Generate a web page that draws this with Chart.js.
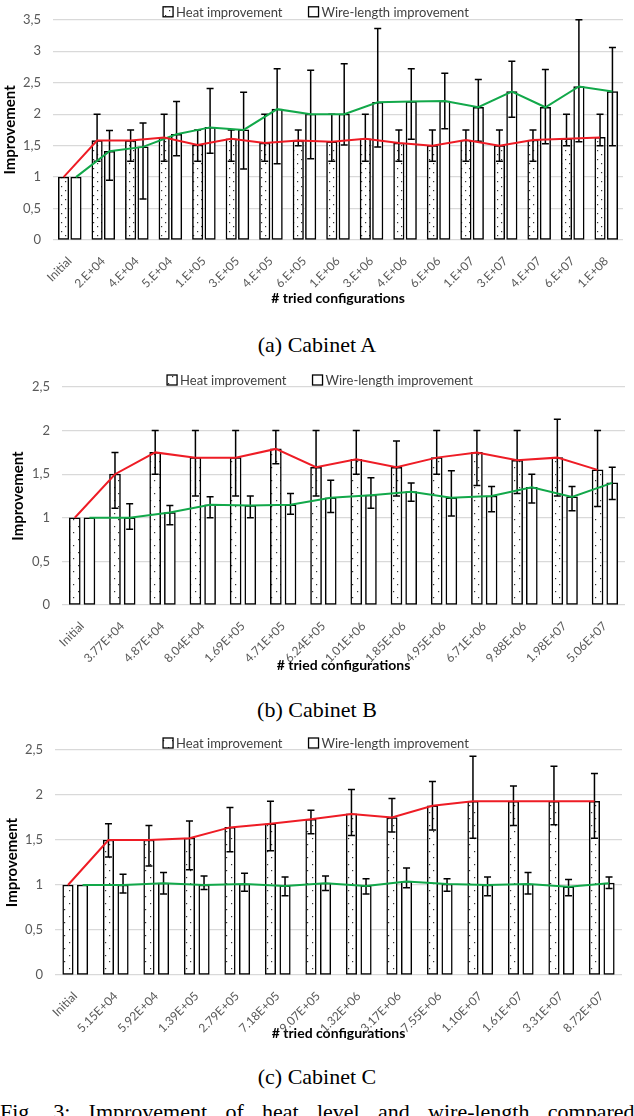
<!DOCTYPE html>
<html>
<head>
<meta charset="utf-8">
<script src="https://cdn.jsdelivr.net/npm/chart.js@4.4.1/dist/chart.umd.min.js"></script>
<style>
  html, body { margin: 0; padding: 0; background: #fff; width: 634px; height: 1116px; overflow: hidden; }
  .chart { position: absolute; left: 0; width: 634px; }
  .caption { position: absolute; left: 0; width: 634px; text-align: center; font-family: 'Liberation Serif', serif; font-size: 22px; line-height: 24px; color: #000; }
  .fig { position: absolute; left: 0; top: 1099px; white-space: nowrap; font-family: 'Liberation Serif', serif; font-size: 22px; line-height: 26px; word-spacing: 12.8px; color: #000; }
</style>
</head>
<body>
<div class="chart" style="top:0;height:311px"><canvas id="chartA"></canvas></div>
<div class="caption" style="top:333px">(a) Cabinet A</div>
<div class="chart" style="top:362px;height:316px"><canvas id="chartB"></canvas></div>
<div class="caption" style="top:698px">(b) Cabinet B</div>
<div class="chart" style="top:726px;height:320px"><canvas id="chartC"></canvas></div>
<div class="caption" style="top:1065px">(c) Cabinet C</div>
<div class="fig">Fig. 3: Improvement of heat level and wire-length compared</div>

<script>
// ========== Cabinet A ==========
const catsA = ['Initial', '2.E+04', '4.E+04', '5.E+04', '1.E+05', '3.E+05', '4.E+05', '6.E+05', '1.E+06',
    '3.E+06', '4.E+06', '6.E+06', '1.E+07', '3.E+07', '4.E+07', '6.E+07', '1.E+08'];
const heatA   = [1.00, 1.58, 1.58, 1.63, 1.51, 1.61, 1.54, 1.58, 1.56, 1.61, 1.54, 1.50, 1.59, 1.50, 1.59, 1.61, 1.63];
const heatLoA = [1.00, 1.25, 1.25, 1.25, 1.25, 1.25, 1.25, 1.50, 1.25, 1.25, 1.25, 1.25, 1.25, 1.25, 1.25, 1.50, 1.50];
const heatHiA = [1.00, 2.00, 1.75, 2.00, 1.75, 1.75, 2.00, 1.75, 2.00, 2.00, 1.75, 1.75, 1.75, 1.75, 1.75, 2.00, 2.00];
const wireA   = [1.00, 1.41, 1.48, 1.68, 1.79, 1.75, 2.08, 2.00, 2.00, 2.19, 2.20, 2.21, 2.11, 2.36, 2.11, 2.44, 2.36];
const wireLoA = [1.00, 0.95, 0.65, 1.34, 1.38, 1.13, 1.21, 1.29, 1.51, 1.48, 1.60, 1.77, 1.57, 1.95, 1.53, 1.56, 1.50];
const wireHiA = [1.00, 1.74, 1.86, 2.20, 2.41, 2.35, 2.72, 2.70, 2.80, 3.36, 2.72, 2.65, 2.55, 2.84, 2.71, 3.50, 3.06];

// ========== Cabinet B ==========
const catsB = ['Initial', '3.77E+04', '4.87E+04', '8.04E+04', '1.69E+05', '4.71E+05', '6.24E+05', '1.01E+06',
    '1.85E+06', '4.95E+06', '6.71E+06', '9.88E+06', '1.98E+07', '5.06E+07'];
const heatB   = [1.00, 1.50, 1.75, 1.69, 1.69, 1.79, 1.58, 1.67, 1.58, 1.69, 1.75, 1.66, 1.69, 1.55];
const heatLoB = [1.00, 1.11, 1.50, 1.25, 1.25, 1.62, 1.25, 1.50, 1.25, 1.50, 1.37, 1.28, 1.25, 1.13];
const heatHiB = [1.00, 1.75, 2.00, 2.00, 2.00, 2.00, 2.00, 2.00, 1.88, 2.00, 2.00, 2.00, 2.13, 2.00];
const wireB   = [1.00, 1.00, 1.06, 1.15, 1.14, 1.15, 1.23, 1.26, 1.30, 1.23, 1.25, 1.35, 1.24, 1.40];
const wireLoB = [1.00, 0.87, 0.92, 1.00, 1.00, 1.04, 1.06, 1.11, 1.19, 1.02, 1.07, 1.17, 1.08, 1.21];
const wireHiB = [1.00, 1.16, 1.14, 1.24, 1.25, 1.28, 1.43, 1.46, 1.40, 1.54, 1.36, 1.50, 1.36, 1.58];

// ========== Cabinet C ==========
const catsC = ['Initial', '5.15E+04', '5.92E+04', '1.39E+05', '2.79E+05', '7.18E+05', '9.07E+05', '1.32E+06',
    '3.17E+06', '7.55E+06', '1.10E+07', '1.61E+07', '3.31E+07', '8.72E+07'];
const heatC   = [1.00, 1.50, 1.50, 1.52, 1.64, 1.68, 1.73, 1.79, 1.75, 1.88, 1.93, 1.93, 1.93, 1.93];
const heatLoC = [1.00, 1.31, 1.21, 1.17, 1.37, 1.38, 1.57, 1.55, 1.59, 1.61, 1.52, 1.66, 1.67, 1.52];
const heatHiC = [1.00, 1.68, 1.66, 1.71, 1.86, 1.93, 1.83, 2.06, 1.96, 2.15, 2.43, 2.10, 2.32, 2.24];
const wireC   = [1.00, 1.00, 1.02, 1.00, 1.01, 0.99, 1.02, 0.99, 1.04, 1.01, 1.00, 1.01, 0.98, 1.02];
const wireLoC = [1.00, 0.91, 0.90, 0.95, 0.93, 0.88, 0.94, 0.90, 0.97, 0.93, 0.88, 0.90, 0.88, 0.96];
const wireHiC = [1.00, 1.12, 1.14, 1.10, 1.13, 1.09, 1.10, 1.07, 1.19, 1.07, 1.09, 1.14, 1.06, 1.09];

const RED = '#ee1c25';
const GREEN = '#12a84a';
const FONT = 'Lato';

// dotted fill for the heat bars
function dotPattern(w, h) {
    const tile = document.createElement('canvas');
    tile.width = w; tile.height = h;
    const t = tile.getContext('2d');
    t.fillStyle = '#fff';
    t.fillRect(0, 0, w, h);
    t.fillStyle = '#333';
    t.fillRect(1, 1, 1.2, 1.2);
    t.fillRect(Math.round(w / 2) + 1, Math.round(h / 2) + 1, 1.2, 1.2);
    return t.createPattern(tile, 'repeat');
}

// min / max whiskers on the bars
const errorBars = {
    id: 'errorBars',
    afterDatasetDraw(chart, args) {
        const ds = chart.data.datasets[args.index];
        if (!ds.errLo) return;
        const y = chart.scales.y;
        const ctx = chart.ctx;
        ctx.save();
        ctx.strokeStyle = '#000';
        ctx.lineWidth = 1.5;
        args.meta.data.forEach((bar, i) => {
            const lo = ds.errLo[i], hi = ds.errHi[i];
            if (lo === hi) return;
            const yLo = y.getPixelForValue(lo);
            const yHi = y.getPixelForValue(hi);
            ctx.beginPath();
            ctx.moveTo(bar.x, yLo); ctx.lineTo(bar.x, yHi);
            ctx.moveTo(bar.x - 3.5, yLo); ctx.lineTo(bar.x + 3.5, yLo);
            ctx.moveTo(bar.x - 3.5, yHi); ctx.lineTo(bar.x + 3.5, yHi);
            ctx.stroke();
        });
        ctx.restore();
    }
};

// legend sits just above the top gridline
const topLegend = {
    id: 'topLegend',
    afterDraw(chart, args, opts) {
        const ctx = chart.ctx;
        const items = chart.data.datasets.filter(d => d.type === 'bar');
        const box = 10, gapText = 3, gapItem = 26;
        ctx.save();
        ctx.font = '13px ' + FONT;
        const widths = items.map(d => box + gapText + ctx.measureText(d.label).width);
        const total = widths.reduce((s, w) => s + w, 0) + gapItem * (items.length - 1);
        let x = opts.centerX - total / 2;
        const y = chart.chartArea.top - opts.dy;
        items.forEach((d, i) => {
            ctx.fillStyle = d.backgroundColor;
            ctx.fillRect(x, y - box / 2, box, box);
            ctx.strokeStyle = '#000';
            ctx.lineWidth = 1.3;
            ctx.strokeRect(x, y - box / 2, box, box);
            ctx.fillStyle = '#404040';
            ctx.textBaseline = 'middle';
            ctx.fillText(d.label, x + box + gapText, y + 1);
            x += widths[i] + gapItem;
        });
        ctx.restore();
    }
};

function criarGrafico(id, cats, heat, heatLo, heatHi, wire, wireLo, wireHi, cfg) {
    // bars and lines sit on a hidden linear axis that lines up with the category axis;
    // heat sits left of the category centre, wire-length right of it
    const off = cfg.cp / 4;
    const heatPts = heat.map((v, i) => ({ x: i - off, y: v }));
    const wirePts = wire.map((v, i) => ({ x: i + off, y: v }));
    new Chart(document.getElementById(id), {
        type: 'bar',
        data: {
            labels: cats,
            datasets: [
                {
                    type: 'line', label: 'heat', xAxisID: 'xl', yAxisID: 'y', data: heatPts,
                    borderColor: RED, borderWidth: 2, pointRadius: 0, tension: 0, order: 0
                },
                {
                    type: 'line', label: 'wire', xAxisID: 'xl', yAxisID: 'y', data: wirePts,
                    borderColor: GREEN, borderWidth: 2, pointRadius: 0, tension: 0, order: 0
                },
                {
                    type: 'bar', label: 'Heat improvement', xAxisID: 'xl', yAxisID: 'y',
                    data: heatPts, errLo: heatLo, errHi: heatHi,
                    backgroundColor: dotPattern(cfg.tileW, cfg.tileH),
                    borderColor: '#000', borderWidth: 1.5, borderSkipped: false,
                    grouped: false, barThickness: cfg.barW, order: 1
                },
                {
                    type: 'bar', label: 'Wire-length improvement', xAxisID: 'xl', yAxisID: 'y',
                    data: wirePts, errLo: wireLo, errHi: wireHi,
                    backgroundColor: '#fff',
                    borderColor: '#000', borderWidth: 1.5, borderSkipped: false,
                    grouped: false, barThickness: cfg.barW, order: 1
                }
            ]
        },
        options: {
            responsive: true,
            maintainAspectRatio: false,
            animation: false,
            layout: { padding: { top: cfg.top, right: cfg.right, bottom: 0, left: 0 } },
            plugins: {
                legend: { display: false },
                tooltip: { enabled: false },
                topLegend: { centerX: cfg.legendX, dy: cfg.legendDy }
            },
            scales: {
                x: {
                    type: 'category',
                    labels: cats,
                    offset: true,
                    grid: { display: false },
                    border: { display: false },
                    ticks: {
                        minRotation: 45, maxRotation: 45, autoSkip: false, padding: 6,
                        color: '#595959', font: { family: FONT, size: 12 }
                    },
                    title: {
                        display: true, text: '# tried configurations', color: '#000',
                        font: { family: FONT, size: 14, weight: 'bold' },
                        padding: { top: 0, bottom: 4 }
                    },
                    afterFit: s => { s.height = cfg.xHeight; }
                },
                xl: {
                    type: 'linear', display: false, offset: false, grid: { offset: false },
                    min: -0.5, max: cats.length - 0.5
                },
                y: {
                    min: 0, max: cfg.yMax,
                    grid: { color: '#d9d9d9', lineWidth: 1.3, drawTicks: false },
                    border: { display: false },
                    ticks: {
                        stepSize: 0.5, padding: 12, color: '#595959',
                        font: { family: FONT, size: 13 },
                        callback: v => String(v).replace('.', ',')
                    },
                    title: {
                        display: true, text: 'Improvement', color: '#000',
                        font: { family: FONT, size: 15, weight: 'bold' },
                        padding: { top: cfg.yTitlePad, bottom: 0 }
                    },
                    afterFit: s => { s.width = cfg.left; }
                }
            }
        },
        plugins: [errorBars, topLegend]
    });
}

criarGrafico('chartA', catsA, heatA, heatLoA, heatHiA, wireA, wireLoA, wireHiA,
    { yMax: 3.5, left: 53, right: 11, top: 16, xHeight: 71, cp: 0.74, barW: 10.5, tileW: 8, tileH: 9, legendX: 316, legendDy: 8, yTitlePad: 1 });
criarGrafico('chartB', catsB, heatB, heatLoB, heatHiB, wireB, wireLoB, wireHiB,
    { yMax: 2.5, left: 62, right: 9, top: 25, xHeight: 73, cp: 0.73, barW: 11, tileW: 9, tileH: 13, legendX: 320, legendDy: 7, yTitlePad: 9 });
criarGrafico('chartC', catsC, heatC, heatLoC, heatHiC, wireC, wireLoC, wireHiC,
    { yMax: 2.5, left: 55, right: 12, top: 24, xHeight: 71, cp: 0.72, barW: 10.5, tileW: 9, tileH: 13, legendX: 316, legendDy: 7, yTitlePad: 3 });
</script>
</body>
</html>
